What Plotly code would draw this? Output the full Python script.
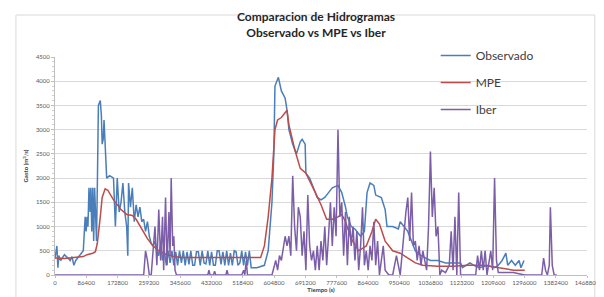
import plotly.graph_objects as go

# ---------------- data ----------------
obs_t = [0, 5200, 8000, 10400, 15600, 20800, 26000, 31200, 36500, 41700, 46900, 52100, 57300, 62500,
         67700, 72900, 78100, 83300, 86000, 88500, 91000, 93800, 96900, 99000, 101600, 104200, 106800,
         109400, 112000, 114600, 117200, 119800, 125000, 128000, 130200, 133000, 135400, 138500, 141000,
         142700, 151000, 161500, 166700, 171900, 177100, 182300, 187500, 192700, 197900, 201000, 203100,
         208300, 213500, 218800, 224000, 229200, 234400, 239600, 244800, 250000, 255200, 260400, 265600,
         270800, 276000, 281300, 286500, 291700, 296900,
         302000, 307300, 312500, 317700, 322900, 328100, 333300, 338500, 343800, 349000, 354200, 359400,
         364600, 369800, 375000, 380200, 385400, 390600, 395800, 401000, 406300, 411500, 416700, 421900,
         427100, 432300, 437500, 442700, 447900, 453100, 458300, 463500, 468800, 474000, 479200, 484400,
         489600, 494800, 500000, 505200, 510400, 515600, 520800, 526000, 531300, 536500,
         541700, 557300, 578100, 588600, 599000, 604200, 607300, 616700, 625000, 635400, 640600, 645800,
         656300, 666700, 677100, 682300, 690600, 692700, 703100, 713500, 724000, 734400, 744800, 755200,
         765600, 781300, 791700, 802100, 807300, 817700, 828100, 843800, 854200, 861500, 869800, 880200,
         885400, 901000, 911500, 916700, 932300, 947900, 953100, 963600, 974000, 989600, 994800, 1010400,
         1026000, 1036500, 1057300, 1078100, 1099000, 1119800, 1125000, 1135400, 1145800, 1156300,
         1171900, 1192700, 1213600, 1224000, 1234400, 1244800, 1250000, 1260400, 1270800, 1281300,
         1286500, 1294800]
obs_q = [350, 600, 150, 400, 300, 350, 420, 380, 350, 300, 380, 200, 300, 350,
         400, 450, 500, 1200, 900, 1200, 1000, 1800, 1300, 1800, 900, 1800, 700,
         1800, 1100, 700, 2000, 3500, 3600, 3300, 2700, 2800, 3200, 2600, 2000,
         2000, 2050, 2000, 1000, 2000, 1300, 1500, 1900, 1300, 1000, 400, 1900,
         1400, 1800, 1100, 1450, 1200, 1400, 1100, 1150, 900, 1100, 800, 650,
         600, 700, 500, 400, 650, 300,
         500, 200, 500, 250, 500, 200, 480, 200, 500, 250, 500, 200,
         480, 220, 500, 200, 200, 480, 480, 200, 500, 250, 230, 500,
         200, 480, 200, 200, 500, 500, 220, 480, 200, 500, 200, 450,
         200, 500, 480, 200, 250, 500, 200, 480, 200, 500,
         150, 150, 200, 500, 1500, 2500, 3900, 4080, 3800, 3650, 3400, 3000,
         2700, 2500, 2750, 2800, 2700, 2100, 2000, 1800, 1600, 1550, 1600, 1700,
         1800, 1850, 1700, 1400, 1200, 1000, 950, 800, 900, 1700, 1900, 1850,
         1650, 1600, 1350, 1000, 1000, 950, 1100, 1000, 900, 600, 500, 400,
         350, 300, 300, 250, 250, 250, 150, 200, 250, 200,
         150, 200, 150, 200, 300, 450, 200, 300, 200, 300,
         150, 300]

mpe_t = [0, 26000, 52100, 78100, 88500, 104200, 111500, 116700, 125000, 130200, 138500, 145800,
         161500, 182300, 197900, 213500, 224000, 239600, 255200, 270800, 286500, 307300, 328100,
         349000, 567700, 578100, 588600, 599000, 607300, 614600, 625000, 640600, 645800, 661500,
         677100, 692700, 703100, 718800, 734400, 750000, 765600, 781300, 791700, 802100, 817700,
         838500, 859400, 875000, 885400, 895800, 911500, 932300, 953100, 974000, 994800, 1015600,
         1057300, 1099000, 1140600, 1182300, 1224000, 1265600, 1296900]
mpe_q = [350, 340, 360, 380, 420, 450, 480, 650, 1200, 1600, 1780, 1750,
         1550, 1350, 1250, 1230, 1150, 950, 750, 600, 500, 420, 380,
         360, 360, 600, 1200, 2000, 3000, 3200, 3250, 3400, 3100, 2600,
         2200, 2100, 1950, 1700, 1450, 1150, 1150, 1200, 1250, 1100, 750,
         500, 600, 900, 1150, 1050, 700, 500, 450, 350, 250, 200,
         180, 180, 200, 200, 150, 100, 100]

iber_t = [0, 244800, 250000, 255200, 260400, 265600, 270800, 276000, 281300, 286500, 291700, 296900,
          300000, 305200, 309400, 314600, 317700, 320800, 325000, 328100, 331300, 335400,
          421900, 425000, 428100, 437500, 440600, 443800, 471900, 475000, 478100,
          515600, 520800, 524000, 528100, 531300,
          599000, 609400, 614600, 619800, 625000, 635400, 640600, 645800, 651000, 656300, 661500,
          666700, 671900, 677100, 682300, 687500, 692700, 697900, 703100, 708300, 713500, 718800,
          724000, 729200, 734400, 739600, 744800, 750000, 755200, 760400, 765600, 770800, 776000,
          781300, 786500, 791700, 796900, 802100, 807300, 812500, 817700, 822900, 828100, 833300,
          838500, 843800, 849000, 854200, 859400, 864600, 869800, 875000, 880200, 885400, 890600,
          895800, 901000, 906300, 911500, 921900, 932300, 942700, 953100, 961500, 968800, 974000,
          979200, 984400, 989600, 994800, 1000000, 1005200, 1010400, 1015600, 1026000, 1031300,
          1036500, 1041700, 1046900, 1052100, 1057300, 1062500, 1067700, 1078100, 1088500, 1093800,
          1099000, 1104200, 1109400, 1114600, 1119800, 1130200, 1161500, 1166700, 1171900, 1177100,
          1182300, 1187500, 1192700, 1203100, 1208300, 1213600, 1218800, 1224000, 1244800, 1265600,
          1296900, 1343800, 1349000, 1354200, 1359400, 1364600, 1367700, 1372900, 1378100, 1385400]
iber_q = [0, 0, 500, 300, 0, 0, 500, 1000, 200, 1350, 300, 1200,
          100, 1600, 200, 1300, 400, 2000, 600, 800, 100, 0,
          0, 100, 0, 0, 80, 0, 0, 100, 0,
          0, 100, 0, 300, 0,
          0, 300, 100, 400, 300, 800, 600, 800, 400, 2050, 1000,
          500, 1400, 1200, 400, 900, 100, 1650, 600, 300, 500, 100,
          600, 100, 700, 300, 1000, 200, 800, 1500, 600, 1400, 800,
          3000, 1200, 1500, 400, 1300, 200, 1200, 600, 1000, 300, 900,
          100, 600, 1400, 200, 500, 100, 600, 300, 1100, 200, 700,
          0, 300, 600, 100, 0, 0, 400, 0, 800, 1300, 1600,
          700, 1700, 600, 700, 300, 600, 200, 500, 100, 1000,
          2550, 1200, 1800, 800, 1000, 0, 100, 50, 200, 900,
          100, 1200, 0, 1700, 0, 0, 0, 400, 100, 500,
          100, 500, 0, 500, 100, 2000, 300, 50, 50, 50,
          0, 0, 350, 100, 0, 200, 1400, 200, 0, 0]

x_ticks = [0, 86400, 172800, 259200, 345600, 432000, 518400, 604800, 691200, 777600,
           864000, 950400, 1036800, 1123200, 1209600, 1296000, 1382400, 1468800]
y_ticks = [0, 500, 1000, 1500, 2000, 2500, 3000, 3500, 4000, 4500]

# ---------------- figure ----------------
fig = go.Figure()
fig.add_trace(go.Scatter(x=obs_t, y=obs_q, mode="lines", name="Observado", legendgroup="a",
                         line=dict(color="#4a7ebb", width=1.5)))
fig.add_trace(go.Scatter(x=mpe_t, y=mpe_q, mode="lines", name="MPE", legendgroup="b",
                         line=dict(color="#be4b48", width=1.5)))
fig.add_trace(go.Scatter(x=iber_t, y=iber_q, mode="lines", name="Iber", legendgroup="c",
                         line=dict(color="#7b5ea7", width=1.5)))

L, R, T, B = 47, 12, 49, 30
W, H = 604, 297
pw, ph = W - L - R, H - T - B

def px_x(p):
    return (p - L) / pw

def px_y(p):
    return (H - B - p) / ph

fig.update_layout(
    width=W, height=H,
    margin=dict(l=L, r=R, t=T, b=B),
    paper_bgcolor="white", plot_bgcolor="white",
    font=dict(family="Lato, Open Sans, sans-serif", color="#404040"),
    title=dict(text="<b>Comparacion de Hidrogramas<br>Observado vs MPE vs Iber</b>",
               x=0.51, xanchor="center", y=0.955, yanchor="top",
               font=dict(size=12, color="#262626")),
    legend=dict(x=px_x(437), y=px_y(33), xanchor="left", yanchor="top",
                bgcolor="rgba(0,0,0,0)", font=dict(size=12, color="#404040"),
                tracegroupgap=8, itemwidth=30),
    showlegend=True,
    xaxis=dict(range=[0, 1468800], tickvals=x_ticks, ticktext=[str(v) for v in x_ticks],
               tickfont=dict(size=6, color="#595959"), showgrid=False, zeroline=False,
               showline=True, linecolor="#bfbfbf", ticks="outside", ticklen=2, tickcolor="#bfbfbf",
               ticklabeloverflow="allow",
               title=dict(text="<b>Tiempo (s)</b>", font=dict(size=6, color="#404040"), standoff=1)),
    yaxis=dict(range=[0, 4500], tickvals=y_ticks, ticktext=[str(v) for v in y_ticks],
               tickfont=dict(size=6, color="#595959"), showgrid=True, gridcolor="#d9d9d9",
               zeroline=False, showline=True, linecolor="#bfbfbf", ticks="outside", ticklen=3,
               tickcolor="#bfbfbf",
               minor=dict(ticks="outside", ticklen=2, tickcolor="#d0d0d0", dtick=100),
               title=dict(text="<b>Gasto (m<sup>3</sup>/s)</b>", font=dict(size=6, color="#404040"),
                          standoff=6)),
)

fig.add_shape(type="rect", xref="paper", yref="paper",
              x0=px_x(7), x1=px_x(600), y0=px_y(293), y1=px_y(7),
              line=dict(color="#d9d9d9", width=1), fillcolor="rgba(0,0,0,0)", layer="below")

fig.write_html("out.html")
